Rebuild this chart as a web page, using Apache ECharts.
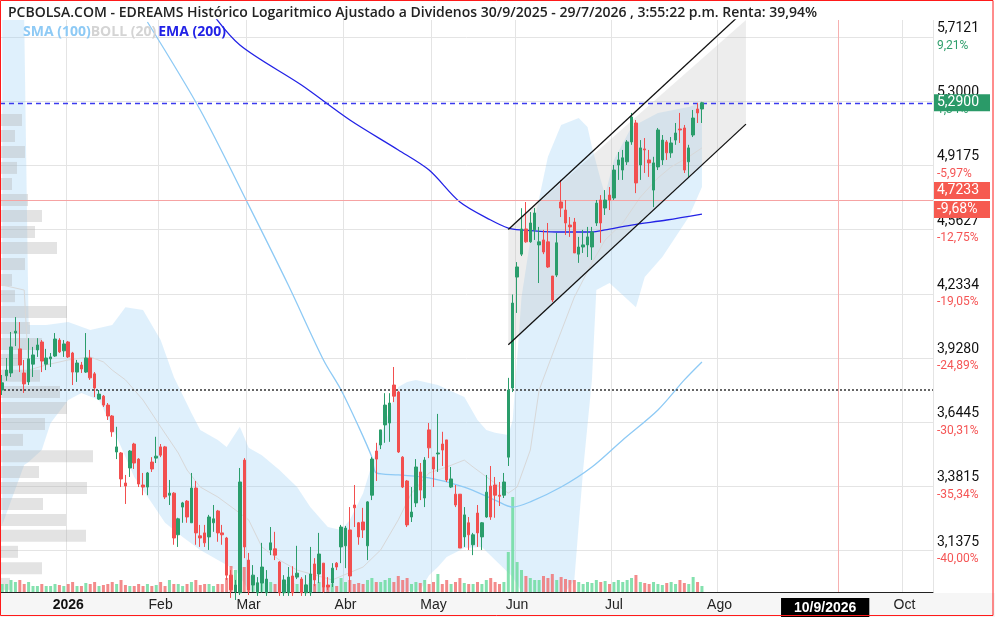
<!DOCTYPE html>
<html><head><meta charset="utf-8">
<script src="https://cdn.jsdelivr.net/npm/echarts@6/dist/echarts.min.js"></script>
<style>html,body{margin:0;padding:0;background:#fff}#c{width:995px;height:617px}</style>
</head><body><div id="c"></div>
<script>
// ---------- DATA ----------
const titleText = 'PCBOLSA.COM - EDREAMS Histórico Logaritmico Ajustado a Dividenos 30/9/2025 - 29/7/2026 , 3:55:22 p.m. Renta: 39,94%';
const legendNames = ['SMA (100)', 'BOLL (20)', 'EMA (200)'];

// OHLC per session: [open, close, low, high]
const candles = [
[3.784,3.816,3.762,3.851],[3.847,3.873,3.825,3.928],[3.860,3.979,3.842,4.049],[4.044,4.053,3.983,4.120],[3.970,3.896,3.864,4.096],
[3.860,3.811,3.771,3.919],[3.820,3.924,3.806,4.020],[3.900,3.942,3.842,3.979],[3.965,3.988,3.933,4.020],[4.002,3.914,3.864,4.011],
[3.900,3.928,3.873,3.970],[3.924,3.933,3.887,3.951],[3.937,4.016,3.933,4.044],[4.011,3.956,3.951,4.020],[3.961,3.993,3.933,4.011],
[4.002,3.933,3.928,4.007],[3.951,3.864,3.806,3.956],[3.864,3.905,3.820,3.919],[3.896,3.878,3.860,3.910],[3.864,3.928,3.860,4.044],
[3.928,3.838,3.829,3.965],[3.856,3.793,3.753,3.864],[3.744,3.766,3.740,3.784],[3.757,3.718,3.710,3.762],[3.718,3.671,3.654,3.727],
[3.671,3.604,3.583,3.675],[3.520,3.541,3.491,3.625],[3.516,3.411,3.379,3.520],[3.395,3.383,3.313,3.427],[3.455,3.524,3.419,3.528],
[3.553,3.475,3.451,3.558],[3.491,3.391,3.379,3.495],[3.387,3.379,3.347,3.435],[3.379,3.435,3.347,3.439],[3.479,3.451,3.439,3.499],
[3.495,3.503,3.475,3.583],[3.541,3.507,3.499,3.553],[3.541,3.340,3.332,3.545],[3.347,3.355,3.309,3.407],[3.355,3.184,3.159,3.359],
[3.196,3.256,3.151,3.260],[3.301,3.317,3.241,3.321],[3.324,3.263,3.241,3.328],[3.241,3.375,3.241,3.435],[3.375,3.203,3.159,3.403],
[3.192,3.184,3.151,3.233],[3.203,3.166,3.151,3.233],[3.188,3.263,3.140,3.271],[3.241,3.256,3.207,3.309],[3.286,3.203,3.170,3.290],
[3.203,3.196,3.159,3.233],[3.184,3.049,3.032,3.188],[3.049,2.997,2.969,3.067],[2.990,3.014,2.962,3.032],[2.987,3.399,2.979,3.455],
[3.487,3.151,3.110,3.495],[3.103,2.997,2.979,3.129],[3.014,3.049,2.990,3.085],[2.987,3.021,2.976,3.042],[3.021,3.078,2.987,3.166],
[2.987,3.035,2.976,3.067],[3.140,3.166,3.121,3.225],[3.144,3.121,3.103,3.207],[3.096,2.987,2.976,3.099],[2.987,3.032,2.976,3.049],
[2.987,3.042,2.976,3.078],[3.046,2.987,2.976,3.081],[3.042,3.056,3.035,3.155],[3.035,2.987,2.976,3.042],[2.987,3.014,2.976,3.049],
[2.987,3.053,2.976,3.151],[3.089,3.032,3.010,3.110],[3.053,3.125,3.021,3.203],[3.092,3.007,2.987,3.092],[3.014,3.007,2.997,3.042],
[3.021,3.074,3.007,3.092],[3.092,3.078,3.067,3.096],[3.151,3.225,3.092,3.233],[3.155,3.221,3.074,3.229],[3.214,3.046,2.987,3.301],
[3.309,3.298,3.225,3.387],[3.241,3.188,3.159,3.244],[3.244,3.214,3.184,3.298],[3.155,3.321,3.103,3.324],[3.347,3.491,3.328,3.499],
[3.524,3.491,3.403,3.558],[3.549,3.612,3.532,3.612],[3.633,3.718,3.558,3.770],[3.641,3.727,3.562,3.770],[3.806,3.757,3.731,3.887],
[3.775,3.520,3.516,3.780],[3.499,3.379,3.375,3.503],[3.403,3.233,3.225,3.407],[3.263,3.282,3.244,3.379],[3.317,3.459,3.301,3.491],
[3.439,3.367,3.328,3.475],[3.336,3.487,3.301,3.499],[3.612,3.537,3.495,3.641],[3.499,3.451,3.379,3.499],[3.512,3.516,3.439,3.680],
[3.553,3.528,3.463,3.604],[3.570,3.407,3.399,3.570],[3.379,3.411,3.375,3.459],[3.351,3.309,3.301,3.387],[3.351,3.147,3.147,3.351],
[3.188,3.271,3.151,3.301],[3.241,3.196,3.140,3.263],[3.159,3.196,3.121,3.203],[3.278,3.203,3.151,3.309],[3.188,3.241,3.140,3.244],
[3.263,3.359,3.260,3.427],[3.383,3.263,3.252,3.463],[3.387,3.347,3.260,3.419],[3.347,3.343,3.305,3.399],[3.347,3.399,3.336,3.435],
[3.499,3.784,3.463,3.838],[3.793,4.188,3.775,4.230],[4.317,4.368,4.140,4.393],[4.434,4.566,4.424,4.678],[4.566,4.498,4.493,4.712],
[4.498,4.598,4.493,4.657],[4.561,4.652,4.508,4.679],[4.482,4.498,4.287,4.577],[4.508,4.445,4.434,4.561],[4.498,4.368,4.363,4.598],
[4.322,4.203,4.193,4.322],[4.327,4.493,4.317,4.545],[4.712,4.679,4.630,4.835],[4.668,4.598,4.534,4.723],[4.587,4.577,4.524,4.630],
[4.603,4.440,4.440,4.625],[4.434,4.471,4.389,4.524],[4.471,4.482,4.440,4.561],[4.482,4.524,4.419,4.577],[4.471,4.550,4.404,4.577],
[4.598,4.706,4.582,4.723],[4.723,4.598,4.493,4.750],[4.679,4.723,4.641,4.778],[4.750,4.723,4.668,4.795],[4.734,4.891,4.723,4.920],
[4.920,4.949,4.835,4.995],[4.891,4.961,4.835,5.007],[4.938,5.054,4.920,5.065],[5.054,5.203,5.037,5.228],[5.167,4.818,4.761,5.185],
[4.920,5.019,4.835,5.065],[5.013,5.007,4.874,5.077],[4.949,4.932,4.852,5.007],[4.778,4.932,4.684,4.967],[4.909,5.125,4.891,5.137],
[4.949,5.065,4.920,5.095],[5.054,4.990,4.949,5.065],[4.990,5.048,4.961,5.083],[5.065,5.107,5.037,5.167],[5.131,5.125,5.048,5.228],
[5.137,4.891,4.874,5.155],[4.938,5.019,4.852,5.037],[5.095,5.197,5.083,5.246],[5.252,5.228,5.167,5.289],[5.252,5.290,5.167,5.296]
];

// volume (thousands of shares)
const volumes = [
80,80,120,100,120,80,100,60,60,80, 60,60,80,70,60,80,100,60,60,90,
80,100,60,70,80,100,80,120,70,60, 60,80,60,80,60,70,100,60,120,80,
80,60,80,100,120,70,80,80,60,80, 80,140,260,220,200,250,160,120,100,90,
90,100,80,100,120,80,90,80,100,80, 90,80,100,120,70,80,60,140,100,120,
80,90,80,120,140,100,100,120,140,100, 160,120,140,80,100,90,120,80,100,180,
80,120,80,100,140,90,80,80,100,80, 120,140,100,80,100,400,950,300,220,160,
140,120,120,160,140,180,120,150,130,120, 120,100,80,100,90,120,100,110,80,100,
120,100,120,140,170,100,90,80,100,80, 70,90,100,80,120,90,80,150,100,60
];

// category slots (sessions + empty future slots)
const slotCount = 212;
const xLabelIdx  = [15, 36, 56, 78, 98, 117, 139, 163, 187, 205];
const xLabelText = ['2026','Feb','Mar','Abr','May','Jun','Jul','Ago','10/9/2026','Oct'];
const markerSlot = 190;

// right axis ticks
const tickValues = [5.7121, 5.3000, 4.9175, 4.5627, 4.2334, 3.9280, 3.6445, 3.3815, 3.1375];
const tickPcts   = ['9,21%', '1,34%', '-5,97%', '-12,75%', '-19,05%', '-24,89%', '-30,31%', '-35,34%', '-40,00%'];
const yMin = 2.9896, yMax = 5.8266;

// reference levels
const lastPrice = 5.29, lastPriceText = '5,2900';
const refLevel = 4.7233, refLevelText = '4,7233', refLevelPct = '-9,68%';
const dottedLevel = 3.784;

// Bollinger (20) band, sampled
const bandUpIdx = [0,5,6,10,15,20,25,28,32,36,39,43,45,49,51,54,56,59,63,67,70,74,77,79,82,85,88,90,92,94,99,105,108,110,112,115,116,118,120,124,127,131,133,134,136,137,139,143,149,156,159];
const bandUpVal = [5.83,5.83,4.082,4.082,4.096,4.058,4.082,4.168,4.154,4.011,3.842,3.684,3.612,3.570,3.541,3.625,3.537,3.507,3.447,3.379,3.301,3.225,3.214,3.252,3.355,3.528,3.697,3.797,3.820,3.829,3.806,3.753,3.654,3.612,3.600,3.591,3.654,4.217,4.508,4.967,5.155,5.197,5.143,5.024,4.835,4.750,4.949,5.143,5.228,5.265,5.290];
const bandLoIdx = [0,5,6,9,11,15,18,22,26,30,34,37,41,45,49,53,56,60,70,80,90,95,97,99,101,105,109,112,116,118,122,128,130,132,134,135,138,144,146,150,153,156,159];
const bandLoVal = [3.233,3.467,3.479,3.528,3.641,3.740,3.771,3.740,3.583,3.419,3.317,3.241,3.188,3.140,3.103,3.067,2.997,2.945,2.928,2.928,2.945,2.997,3.049,3.078,3.114,3.147,3.151,3.103,3.042,2.990,2.895,2.895,3.032,3.447,3.829,4.252,4.287,4.168,4.317,4.419,4.524,4.630,4.795];
const bollMidIdx = [0,5,6,10,15,20,23,25,28,32,36,40,42,45,49,53,56,59,63,67,75,82,86,90,93,97,101,105,107,111,115,117,120,122,126,130,134,137,141,145,149,152,156,159];
const bollMidVal = [4.277,4.252,3.873,3.896,3.919,3.933,3.910,3.873,3.829,3.740,3.625,3.516,3.447,3.379,3.340,3.290,3.252,3.151,3.103,3.067,3.032,3.078,3.140,3.252,3.355,3.435,3.459,3.487,3.459,3.407,3.355,3.379,3.528,3.784,3.997,4.217,4.389,4.508,4.598,4.739,4.846,4.909,4.967,5.019];

// SMA (100), sampled
const smaIdx = [33,45,56,65,73,77,81,84,85,90,97,105,112,116,120,127,134,141,149,155,159];
const smaVal = [5.813,5.246,4.695,4.277,3.919,3.784,3.625,3.499,3.435,3.427,3.415,3.379,3.328,3.301,3.321,3.379,3.459,3.570,3.697,3.829,3.910];

// EMA (200), sampled
const emaIdx = [47,54,68,79,90,97,104,111,115,118,126,134,137,143,151,159];
const emaVal = [5.90,5.659,5.401,5.185,5.007,4.891,4.712,4.614,4.571,4.561,4.550,4.550,4.561,4.587,4.614,4.646];

// trend channel
const chanIdx = [115, 169];
const chanUpper = [4.563, 5.90];
const chanLower = [3.989, 5.160];

// volume profile (price level, volume)
const vpPrice = [5.185,5.089,4.995,4.903,4.812,4.723,4.636,4.550,4.466,4.383,4.302,4.222,4.144,4.068,3.993,3.919,3.847,3.775,3.705,3.637,3.570,3.503,3.439,3.375,3.313,3.252,3.192,3.133,3.074,3.018];
const vpVolume = [22,15,25,17,12,28,42,35,57,25,12,15,67,30,42,20,40,60,67,45,23,93,39,87,43,66,86,18,42,10];

// ---------- STYLE ----------
const UP = '#2a9d6b', DOWN = '#f24f4f';
const VUP = 'rgba(110,220,160,0.85)', VDOWN = 'rgba(240,110,110,0.8)';

const categories = Array.from({length: slotCount}, (_, i) => 'd' + i);
const labelMap = {};
xLabelIdx.forEach((ix, k) => { labelMap[ix] = xLabelText[k]; });
const gridSet = new Set(xLabelIdx.filter((ix, k) => xLabelText[k].indexOf('/') < 0));

const fmtNum = v => v.toFixed(4).replace('.', ',');

const chart = echarts.init(document.getElementById('c'), null, {renderer: 'canvas'});

function polyClamp(params, pts) {
  const cs = params.coordSys;
  return pts.map(p => [p[0], Math.max(cs.y, Math.min(cs.y + cs.height, p[1]))]);
}

const option = {
  animation: false,
  backgroundColor: '#ffffff',
  title: [
    {text: titleText, left: 3, top: 1,
     textStyle: {fontFamily: 'Open Sans', fontSize: 14, fontWeight: 600, color: '#222'}},
    {text: '{s|' + legendNames[0] + '}{b|' + legendNames[1] + '}{e|' + legendNames[2] + '}', left: 18, top: 20,
     textStyle: {rich: {
       s: {fontFamily: 'Open Sans', fontSize: 14, color: '#8ecaf5'},
       b: {fontFamily: 'Open Sans', fontSize: 14, color: '#d4d4d4'},
       e: {fontFamily: 'Open Sans', fontSize: 14, color: '#2222e6', padding: [0, 0, 0, 2]}
     }}}
  ],
  graphic: [
    {type: 'rect', z: -10, shape: {x: 0, y: 593, width: 995, height: 24}, style: {fill: '#f6f6f6'}},
    {type: 'rect', z: 100, shape: {x: 0.5, y: 0.5, width: 992.5, height: 615}, style: {fill: 'none', stroke: '#ff1a1a', lineWidth: 1}}
  ],
  grid: {left: 0, right: 62, top: 20, bottom: 25},
  xAxis: [
    {type: 'category', data: categories, boundaryGap: true,
     axisLine: {show: true, lineStyle: {color: '#222', width: 1}},
     axisTick: {show: false},
     axisLabel: {
       interval: (i) => labelMap[i] !== undefined,
       formatter: (v, i) => {
         const t = labelMap[i];
         if (t === undefined) return '';
         if (t.indexOf('/') >= 0) return '{d|' + t + '}';
         if (/^\d{4}$/.test(t)) return '{y|' + t + '}';
         return '{m|' + t + '}';
       },
       margin: 6,
       rich: {
         m: {fontFamily: "'Liberation Sans Narrow','Arial Narrow',sans-serif", fontSize: 14, color: '#222'},
         y: {fontFamily: "'Liberation Sans Narrow','Arial Narrow',sans-serif", fontSize: 14, color: '#111', fontWeight: 'bold'},
         d: {fontFamily: "'Liberation Sans Narrow','Arial Narrow',sans-serif", fontSize: 14, color: '#fff', fontWeight: 'bold',
             backgroundColor: '#000', padding: [3, 13, 2, 13]}
       }
     },
     splitLine: {show: true, interval: (i) => gridSet.has(i), lineStyle: {color: '#e4e4e4', width: 1}}
    },
    {type: 'value', position: 'top', min: 0, max: 933, show: false}
  ],
  yAxis: [
    {type: 'log', logBase: 10, position: 'right', min: yMin, max: yMax,
     axisLine: {show: true, lineStyle: {color: '#444', width: 1}},
     axisTick: {show: false, customValues: tickValues},
     splitLine: {show: true, lineStyle: {color: '#e4e4e4', width: 1}},
     axisLabel: {
       customValues: tickValues,
       margin: 4,
       formatter: (v) => {
         let k = tickValues.findIndex(t => Math.abs(t - v) < 1e-6);
         const p = tickPcts[k] || '';
         return '{v|' + fmtNum(v) + '}\n{' + (p.charAt(0) === '-' ? 'n' : 'p') + '|' + p + '}';
       },
       rich: {
         v: {fontFamily: 'Roboto', fontSize: 14, color: '#111', lineHeight: 17},
         p: {fontFamily: 'Roboto', fontSize: 12, color: '#2e9e6b', lineHeight: 17},
         n: {fontFamily: 'Roboto', fontSize: 12, color: '#f55555', lineHeight: 17}
       }
     }
    },
    {type: 'value', min: 0, max: 5720, show: false, splitLine: {show: false}}
  ],
  series: [
    { // Bollinger band fill
      type: 'custom', name: 'bollband', z: 1, clip: true, silent: true,
      data: [[0, 4]],
      renderItem: (params, api) => {
        const pts = [];
        bandUpIdx.forEach((ix, k) => pts.push(api.coord([ix, bandUpVal[k]])));
        for (let k = bandLoIdx.length - 1; k >= 0; k--) pts.push(api.coord([bandLoIdx[k], bandLoVal[k]]));
        return {type: 'polygon', shape: {points: polyClamp(params, pts)}, style: {fill: 'rgba(150,205,245,0.3)'}};
      }
    },
    { // channel fill
      type: 'custom', name: 'chanfill', z: 1, clip: true, silent: true,
      data: [[0, 4]],
      renderItem: (params, api) => {
        const pts = [
          api.coord([chanIdx[0], chanUpper[0]]), api.coord([chanIdx[1], chanUpper[1]]),
          api.coord([chanIdx[1], chanLower[1]]), api.coord([chanIdx[0], chanLower[0]])
        ];
        return {type: 'polygon', shape: {points: polyClamp(params, pts)}, style: {fill: 'rgba(190,190,190,0.28)'}};
      }
    },
    { // volume profile
      type: 'custom', name: 'vp', xAxisIndex: 1, yAxisIndex: 0, z: 2, silent: true,
      data: vpVolume.map((v, i) => [v, vpPrice[i]]),
      encode: {x: 0, y: 1},
      renderItem: (params, api) => {
        const a = api.coord([0, api.value(1)]);
        const b = api.coord([api.value(0), api.value(1)]);
        return {type: 'rect', shape: {x: a[0], y: a[1] - 6, width: b[0] - a[0], height: 12},
                style: {fill: 'rgba(175,175,175,0.35)'}};
      }
    },
    { // volume bars
      type: 'bar', name: 'vol', yAxisIndex: 1, z: 2, barWidth: 3, silent: true,
      data: volumes.map((v, i) => ({value: v, itemStyle: {color: candles[i][1] >= candles[i][0] ? VUP : VDOWN}}))
    },
    { type: 'line', name: 'BOLL mid', data: bollMidIdx.map((ix, k) => [ix, bollMidVal[k]]), showSymbol: false, z: 3,
      lineStyle: {color: '#d8d8d8', width: 1}, silent: true },
    { type: 'line', name: 'SMA', data: smaIdx.map((ix, k) => [ix, smaVal[k]]), showSymbol: false, z: 4, smooth: 0.3,
      lineStyle: {color: '#8ecaf5', width: 1.3}, silent: true },
    { type: 'line', name: 'EMA', data: emaIdx.map((ix, k) => [ix, emaVal[k]]), showSymbol: false, z: 4, smooth: 0.3,
      lineStyle: {color: '#2323e6', width: 1.3}, silent: true },
    {
      type: 'candlestick', name: 'EDREAMS', z: 5, barWidth: 3,
      data: candles,
      itemStyle: {color: UP, color0: DOWN, borderColor: UP, borderColor0: DOWN, borderWidth: 1},
      markLine: {
        symbol: ['none', 'none'], silent: true, animation: false, precision: 4,
        data: [
          {yAxis: lastPrice, lineStyle: {color: '#3b3bee', type: [5, 4], width: 1.3},
           label: {show: true, position: 'end', distance: 1, formatter: lastPriceText,
                   backgroundColor: '#2a9a68', color: '#fff', fontFamily: 'Roboto', fontSize: 14, padding: [2, 3, 1, 3], width: 50}},
          {yAxis: refLevel, lineStyle: {color: '#f6a3a3', type: 'solid', width: 1},
           label: {show: true, position: 'end', distance: 1,
                   formatter: '{a|' + refLevelText + '}\n{b|' + refLevelPct + '}',
                   rich: {
                     a: {backgroundColor: '#f65a50', color: '#fff', fontFamily: 'Roboto', fontSize: 14, width: 50, padding: [2, 3, 1, 3], lineHeight: 19},
                     b: {backgroundColor: '#f65a50', color: '#fff', fontFamily: 'Roboto', fontSize: 14, width: 50, padding: [2, 3, 1, 3], lineHeight: 19}
                   }}},
          {yAxis: dottedLevel, lineStyle: {color: '#333', type: [2, 2], width: 1.5}, label: {show: false}},
          {xAxis: 'd' + markerSlot, lineStyle: {color: '#f6b0b0', type: 'solid', width: 1}, label: {show: false}}
        ]
      }
    },
    { type: 'line', name: 'chanU', data: chanIdx.map((ix, k) => [ix, chanUpper[k]]), showSymbol: false, z: 6,
      lineStyle: {color: '#111', width: 1.3}, silent: true },
    { type: 'line', name: 'chanL', data: chanIdx.map((ix, k) => [ix, chanLower[k]]), showSymbol: false, z: 6,
      lineStyle: {color: '#111', width: 1.3}, silent: true }
  ]
};
chart.setOption(option);
</script>
</body></html>
